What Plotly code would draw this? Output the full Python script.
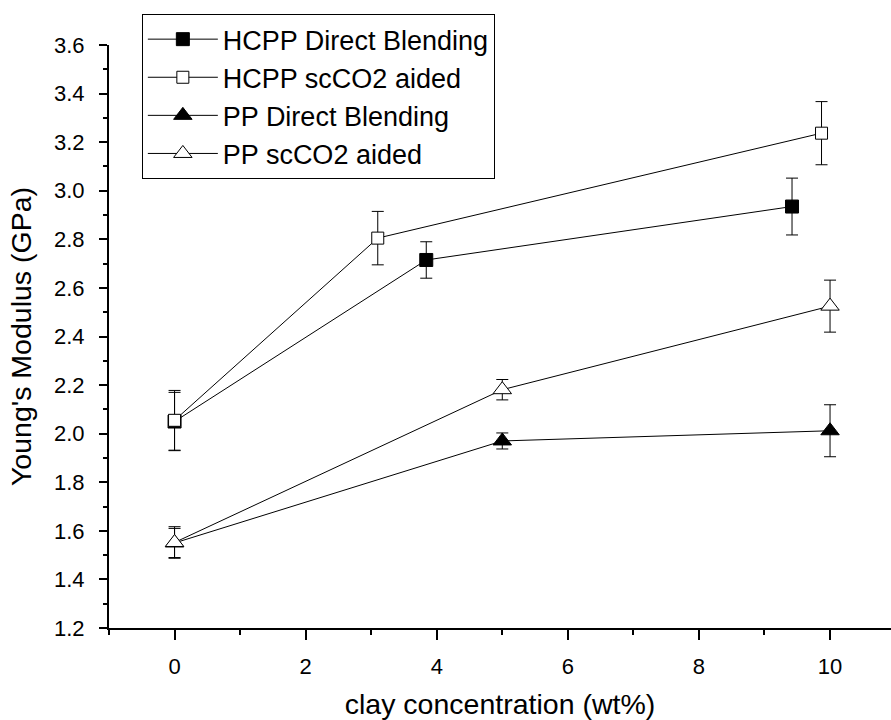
import plotly.graph_objects as go

# Data
names = ["HCPP Direct Blending", "HCPP scCO2 aided", "PP Direct Blending", "PP scCO2 aided"]
x_hcpp_db = [0, 3.84, 9.42]
y_hcpp_db = [2.05, 2.715, 2.935]
e_hcpp_db = [0.12, 0.075, 0.117]

x_hcpp_sc = [0, 3.1, 9.87]
y_hcpp_sc = [2.055, 2.805, 3.237]
e_hcpp_sc = [0.123, 0.11, 0.13]

x_pp_db = [0, 5.0, 10.0]
y_pp_db = [1.55, 1.97, 2.012]
e_pp_db = [0.06, 0.033, 0.107]

x_pp_sc = [0, 5.0, 10.0]
y_pp_sc = [1.552, 2.181, 2.525]
e_pp_sc = [0.065, 0.042, 0.107]

xtick_vals = [0, 2, 4, 6, 8, 10]
ytick_vals = [1.2, 1.4, 1.6, 1.8, 2.0, 2.2, 2.4, 2.6, 2.8, 3.0, 3.2, 3.4, 3.6]

FONT = "Liberation Sans, Arial, sans-serif"

series = [
    (names[0], x_hcpp_db, y_hcpp_db, e_hcpp_db, "square", "black", 13),
    (names[1], x_hcpp_sc, y_hcpp_sc, e_hcpp_sc, "square", "white", 12),
    (names[2], x_pp_db, y_pp_db, e_pp_db, "triangle-up", "black", 16),
    (names[3], x_pp_sc, y_pp_sc, e_pp_sc, "triangle-up", "white", 16),
]

fig = go.Figure()
for name, xs, ys, es, sym, fill, size in series:
    fig.add_trace(go.Scatter(
        x=xs, y=ys, name=name, mode="lines+markers",
        line=dict(color="black", width=1),
        marker=dict(symbol=sym, color=fill, size=size,
                    line=dict(color="black", width=1)),
        error_y=dict(type="data", array=es, visible=True,
                     color="black", thickness=1, width=6),
    ))

fig.update_layout(
    width=891, height=720,
    margin=dict(l=109, r=0, t=45, b=92),
    paper_bgcolor="white", plot_bgcolor="white",
    font=dict(family=FONT, color="black"),
    showlegend=True,
    legend=dict(
        x=0.042, y=1.053, xanchor="left", yanchor="top",
        bordercolor="black", borderwidth=1, bgcolor="white",
        font=dict(size=27, family=FONT),
        itemwidth=70, tracegroupgap=0,
    ),
    xaxis=dict(
        range=[-1, 10.93], tickvals=xtick_vals,
        showgrid=False, zeroline=False,
        showline=True, linecolor="black", linewidth=2,
        ticks="outside", ticklen=10, tickwidth=2, tickcolor="black",
        ticklabelstandoff=8,
        tickfont=dict(size=22, family=FONT),
        minor=dict(dtick=1, tick0=-1, ticks="outside", ticklen=5,
                   tickwidth=2, tickcolor="black", showgrid=False),
        title=dict(text="clay concentration (wt%)",
                   font=dict(size=28.5, family=FONT), standoff=21),
    ),
    yaxis=dict(
        range=[1.2, 3.6], tickvals=ytick_vals, tickformat=".1f",
        showgrid=False, zeroline=False,
        showline=True, linecolor="black", linewidth=2,
        ticks="outside", ticklen=8, tickwidth=2, tickcolor="black",
        ticklabelstandoff=10,
        tickfont=dict(size=22, family=FONT),
        minor=dict(dtick=0.1, tick0=1.2, ticks="outside", ticklen=4,
                   tickwidth=2, tickcolor="black", showgrid=False),
        title=dict(text="Young's Modulus (GPa)",
                   font=dict(size=28.5, family=FONT), standoff=14),
    ),
)

fig.write_html("out.html")
